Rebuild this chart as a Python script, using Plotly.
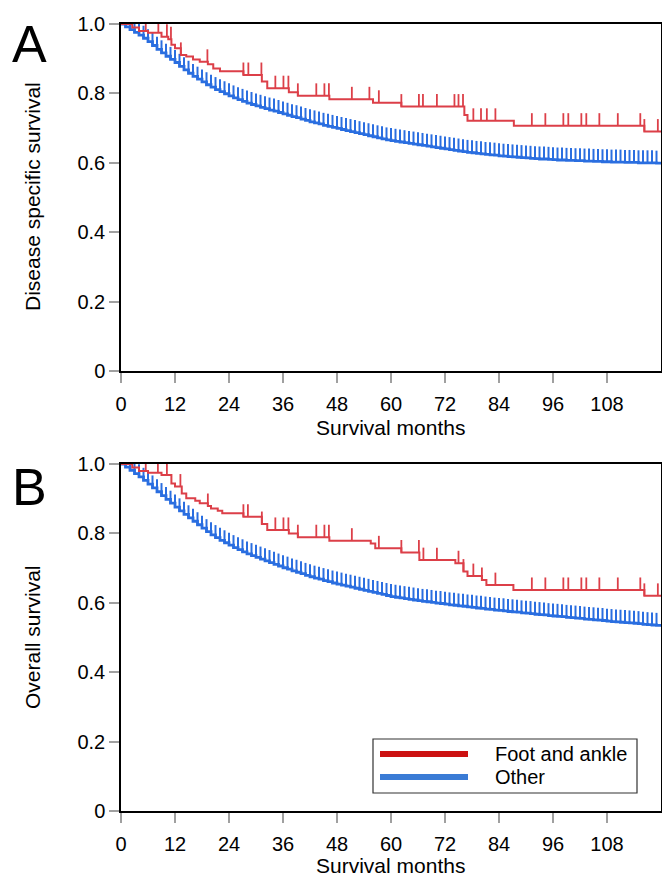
import plotly.graph_objects as go

# ---------------- data ----------------
months = list(range(0, 121))

# "Other" group, monthly survival
other_dss = [1.000, 0.992, 0.984, 0.976, 0.968, 0.959, 0.949, 0.938, 0.927, 0.917,
             0.907, 0.898, 0.889, 0.878, 0.868, 0.858, 0.849, 0.841, 0.833, 0.825,
             0.818, 0.811, 0.805, 0.799, 0.793, 0.787, 0.782, 0.777, 0.772, 0.768,
             0.764, 0.760, 0.756, 0.752, 0.749, 0.745, 0.741, 0.737, 0.733, 0.730,
             0.726, 0.722, 0.718, 0.715, 0.712, 0.708, 0.705, 0.702, 0.699, 0.696,
             0.693, 0.690, 0.687, 0.684, 0.681, 0.678, 0.675, 0.672, 0.669, 0.666,
             0.664, 0.662, 0.660, 0.658, 0.656, 0.654, 0.652, 0.650, 0.648, 0.646,
             0.644, 0.642, 0.640, 0.638, 0.636, 0.634, 0.632, 0.630, 0.629, 0.627,
             0.626, 0.624, 0.623, 0.622, 0.620, 0.619, 0.618, 0.617, 0.616, 0.615,
             0.614, 0.613, 0.612, 0.611, 0.611, 0.610, 0.609, 0.608, 0.608, 0.607,
             0.607, 0.606, 0.606, 0.605, 0.605, 0.604, 0.604, 0.603, 0.603, 0.602,
             0.602, 0.602, 0.601, 0.601, 0.601, 0.600, 0.600, 0.600, 0.600, 0.599,
             0.599]

other_os = [1.000, 0.991, 0.982, 0.972, 0.963, 0.953, 0.942, 0.931, 0.920, 0.909,
            0.898, 0.887, 0.876, 0.865, 0.855, 0.845, 0.835, 0.825, 0.815, 0.805,
            0.796, 0.788, 0.780, 0.773, 0.766, 0.759, 0.753, 0.747, 0.741, 0.736,
            0.731, 0.726, 0.721, 0.716, 0.711, 0.706, 0.701, 0.697, 0.692, 0.688,
            0.684, 0.679, 0.675, 0.671, 0.668, 0.664, 0.661, 0.657, 0.654, 0.651,
            0.648, 0.645, 0.642, 0.639, 0.636, 0.633, 0.630, 0.627, 0.624, 0.621,
            0.618, 0.616, 0.614, 0.612, 0.610, 0.608, 0.606, 0.604, 0.603, 0.601,
            0.599, 0.598, 0.596, 0.594, 0.593, 0.591, 0.590, 0.588, 0.587, 0.585,
            0.584, 0.582, 0.581, 0.579, 0.578, 0.577, 0.575, 0.574, 0.573, 0.571,
            0.570, 0.569, 0.567, 0.566, 0.565, 0.563, 0.562, 0.561, 0.560, 0.558,
            0.557, 0.556, 0.555, 0.553, 0.552, 0.551, 0.550, 0.549, 0.547, 0.546,
            0.545, 0.544, 0.543, 0.542, 0.541, 0.540, 0.538, 0.537, 0.536, 0.535,
            0.534]

other_censor = list(range(1, 120))

# "Foot and ankle" group: event times and survival after each step
foot_dss_t = [0, 2.5, 4, 6, 9, 10.5, 11.2, 12, 13.3, 14.5, 16, 17.5, 19.3, 20.5, 22,
              27.2, 31.3, 32.5, 37.3, 39.3, 46.3, 56, 62.3, 76.3, 77, 87.3, 116.3, 120]
foot_dss_s = [1.0, 0.99, 0.98, 0.975, 0.963, 0.956, 0.940, 0.930, 0.911, 0.906, 0.898,
              0.891, 0.884, 0.872, 0.864, 0.853, 0.834, 0.815, 0.803, 0.793, 0.783,
              0.773, 0.762, 0.738, 0.721, 0.707, 0.690, 0.690]
foot_dss_censor = [5.5, 8.3, 10.2, 11.1, 13.3, 19.2, 27.2, 28.3, 31.2, 34.3, 36.1, 37.2,
                   39.3, 43.4, 45.2, 46.2, 51.3, 55.2, 57.3, 62.3, 66.2, 67.1, 70.2,
                   74.1, 75, 76, 78.3, 80, 81.3, 83.2, 91.3, 94.3, 98.3, 99.4, 102.3,
                   103.4, 106.3, 110.4, 115.4, 116.3, 119.3]

foot_os_t = [0, 2.5, 4, 6, 9, 11.2, 12, 13.5, 14.5, 16.5, 17.5, 19.3, 20, 21.5, 22.5,
             27.2, 31.3, 32.5, 37.3, 39.3, 46.3, 55.5, 56.5, 62.3, 66.3, 74.3, 76.1,
             77, 80.2, 81.2, 87.2, 116.3, 120]
foot_os_s = [1.0, 0.99, 0.98, 0.975, 0.968, 0.944, 0.935, 0.915, 0.901, 0.894, 0.887,
             0.879, 0.872, 0.865, 0.858, 0.848, 0.827, 0.810, 0.800, 0.789, 0.779,
             0.771, 0.757, 0.745, 0.723, 0.714, 0.690, 0.677, 0.666, 0.651, 0.637,
             0.620, 0.620]
foot_os_censor = [5.5, 8.2, 10.2, 13.2, 19.3, 27.2, 28.2, 31.3, 34.3, 36.1, 37.2, 39.3,
                  43.4, 45.2, 46.2, 51.3, 57.3, 62.3, 66.2, 67.2, 70.2, 75, 76.1, 78.3,
                  80.2, 83.2, 91.3, 94.3, 98.3, 99.4, 102.3, 103.4, 106.3, 110.4, 115.4,
                  116.3, 119.3]

x_ticks = [0, 12, 24, 36, 48, 60, 72, 84, 96, 108]
y_ticks = [0, 0.2, 0.4, 0.6, 0.8, 1.0]
y_ticklabels = ["0", "0.2", "0.4", "0.6", "0.8", "1.0"]

RED = "#dc3f48"
BLUE = "#2a6ee0"
TICK_H = 0.036

# ---------------- helpers ----------------
def step_value(ts, ss, t):
    v = ss[0]
    for ti, si in zip(ts, ss):
        if ti <= t:
            v = si
        else:
            break
    return v


def censor_segments(ts, ss, ctimes):
    xs, ys = [], []
    for c in ctimes:
        v = step_value(ts, ss, c)
        xs += [c, c, None]
        ys += [v, v + TICK_H, None]
    return xs, ys


fig = go.Figure()

panels = [
    ("x", "y", other_dss, foot_dss_t, foot_dss_s, foot_dss_censor),
    ("x2", "y2", other_os, foot_os_t, foot_os_s, foot_os_censor),
]
for xa, ya, oth, ft, fs, fc in panels:
    fig.add_trace(go.Scatter(x=months, y=oth, mode="lines", line=dict(color=BLUE, width=2.8, shape="hv"),
                             xaxis=xa, yaxis=ya, showlegend=False, hoverinfo="skip"))
    cx, cy = censor_segments(months, oth, other_censor)
    fig.add_trace(go.Scatter(x=cx, y=cy, mode="lines", line=dict(color=BLUE, width=2),
                             xaxis=xa, yaxis=ya, showlegend=False, hoverinfo="skip"))
    fig.add_trace(go.Scatter(x=ft, y=fs, mode="lines", line=dict(color=RED, width=2, shape="hv"),
                             xaxis=xa, yaxis=ya, showlegend=False, hoverinfo="skip"))
    cx, cy = censor_segments(ft, fs, fc)
    fig.add_trace(go.Scatter(x=cx, y=cy, mode="lines", line=dict(color=RED, width=1.8),
                             xaxis=xa, yaxis=ya, showlegend=False, hoverinfo="skip"))

W, H = 662, 877
ML, MR, MT, MB = 121, 1, 24, 66
PW, PH = W - ML - MR, H - MT - MB


def px2x(px):
    return (px - ML) / PW


def py2y(py):
    return (H - MB - py) / PH


dA = [py2y(371), py2y(24)]
dB = [py2y(811), py2y(464)]

FONT = "Liberation Sans, Arial, Helvetica, sans-serif"

xcommon = dict(range=[0, 120], tickvals=x_ticks, ticks="outside", ticklen=10, tickwidth=1.5,
               tickcolor="#a0a0a0", showline=True, linecolor="black", linewidth=1.5,
               mirror=True, showgrid=False, zeroline=False, automargin=False,
               ticklabelstandoff=4,
               tickfont=dict(size=20, color="black", family=FONT))
ycommon = dict(range=[0, 1.0], tickvals=y_ticks, ticktext=y_ticklabels, ticks="outside", ticklen=10,
               tickwidth=1.5, tickcolor="#a0a0a0", showline=True, linecolor="black", linewidth=1.5,
               mirror=True, showgrid=False, zeroline=False, automargin=False,
               tickfont=dict(size=20, color="black", family=FONT))

fig.update_layout(
    width=W, height=H, margin=dict(l=ML, r=MR, t=MT, b=MB, autoexpand=False),
    paper_bgcolor="white", plot_bgcolor="white",
    font=dict(family=FONT, color="black"),
    xaxis=dict(domain=[0, 1], anchor="y", **xcommon),
    yaxis=dict(domain=dA, anchor="x", **ycommon),
    xaxis2=dict(domain=[0, 1], anchor="y2", **xcommon),
    yaxis2=dict(domain=dB, anchor="x2", **ycommon),
)

TFONT = dict(size=21, color="black", family=FONT)
# axis titles
fig.add_annotation(text="Survival months", x=px2x(390), y=py2y(427), xref="paper", yref="paper",
                   showarrow=False, xanchor="center", yanchor="middle", font=TFONT)
fig.add_annotation(text="Survival months", x=px2x(390), y=py2y(866), xref="paper", yref="paper",
                   showarrow=False, xanchor="center", yanchor="middle", font=TFONT)
fig.add_annotation(text="Disease specific survival", x=px2x(32), y=py2y(197), xref="paper", yref="paper",
                   showarrow=False, xanchor="center", yanchor="middle", textangle=-90, font=TFONT)
fig.add_annotation(text="Overall survival", x=px2x(32), y=py2y(637), xref="paper", yref="paper",
                   showarrow=False, xanchor="center", yanchor="middle", textangle=-90, font=TFONT)

# panel letters
fig.add_annotation(text="A", x=px2x(10), y=py2y(44), xref="paper", yref="paper", showarrow=False,
                   xanchor="left", yanchor="middle", font=dict(size=52, color="black", family=FONT))
fig.add_annotation(text="B", x=px2x(10), y=py2y(487), xref="paper", yref="paper", showarrow=False,
                   xanchor="left", yanchor="middle", font=dict(size=52, color="black", family=FONT))

# legend box (manual)
lx0, lx1, ly0, ly1 = 373, 637, 739, 793
fig.add_shape(type="rect", xref="paper", yref="paper", x0=px2x(lx0), x1=px2x(lx1),
              y0=py2y(ly1), y1=py2y(ly0), line=dict(color="#333333", width=1.2), fillcolor="white")
legend_items = [("Foot and ankle", "#cc1111", 754), ("Other", "#3a7bd5", 777)]
for name, col, yy in legend_items:
    fig.add_shape(type="line", xref="paper", yref="paper", x0=px2x(380), x1=px2x(468),
                  y0=py2y(yy), y1=py2y(yy), line=dict(color=col, width=6))
    fig.add_annotation(text=name, x=px2x(493), y=py2y(yy), xref="paper", yref="paper", showarrow=False,
                       xanchor="left", yanchor="middle", font=dict(size=20, color="black", family=FONT))

fig.write_html("out.html",
               config={"displayModeBar": False},
               post_script="document.body.style.margin='0';document.body.style.overflow='hidden';")
